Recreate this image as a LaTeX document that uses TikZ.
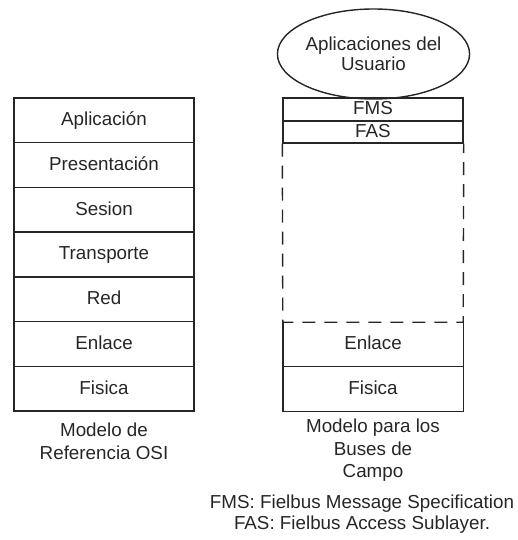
\documentclass[tikz,border=0pt]{standalone}
\usepackage{fontspec}
\setmainfont{Liberation Sans}
\usetikzlibrary{shapes.geometric}
\newcommand\layerfont{\fontsize{18.8}{22.5}\selectfont}
\newcommand\notefont{\fontsize{18.8}{21}\selectfont}
\newcommand\appfont{\fontsize{18.8}{20}\selectfont}
\tikzset{
  ink/.style={black!85},
  frame/.style={ink, line width=1.4pt},
  gapline/.style={frame, dash pattern=on 13pt off 9pt},
  layer/.style={frame, draw, minimum width=180pt, inner sep=0pt,
    text height=11pt, text depth=0pt, font=\layerfont, text=black!85},
  slot/.style={minimum width=180pt, inner sep=0pt,
    text height=11pt, text depth=0pt, font=\layerfont, text=black!85},
  caption/.style={align=center, inner sep=0pt, text=black!85}
}
\begin{document}
\begin{tikzpicture}[x=1pt, y=-1pt]
  \useasboundingbox (0,0) rectangle (517,540);

  % OSI reference model, seven layers
  \node[layer, minimum height=44.7pt] (l1) at (104,120.35) {Aplicación};
  \node[layer, minimum height=44.7pt] (l2) at (104,165.05) {Presentación};
  \node[layer, minimum height=44.7pt] (l3) at (104,209.75) {Sesion};
  \node[layer, minimum height=44.7pt] (l4) at (104,254.45) {Transporte};
  \node[layer, minimum height=44.7pt] (l5) at (104,299.15) {Red};
  \node[layer, minimum height=44.7pt] (l6) at (104,343.85) {Enlace};
  \node[layer, minimum height=44.7pt] (l7) at (104,388.55) {Fisica};
  \node[caption, anchor=north, font=\layerfont] (osi) at (104,423) {Modelo de\\Referencia OSI};

  % fieldbus model
  \node[ellipse, frame, draw, minimum width=181pt, minimum height=90pt, inner sep=0pt,
        align=center, font=\appfont, text=black!85] (apps) at (373.5,54) {Aplicaciones del\\Usuario};
  \node[layer, minimum height=23pt] (fms) at (373,109.5) {FMS};
  \node[layer, minimum height=22pt] (fas) at (373,132) {FAS};
  \node[slot, minimum height=179pt] (gap) at (373,232.5) {};
  \node[slot, minimum height=44pt] (enl) at (373,344) {Enlace};
  \node[slot, minimum height=45pt] (fis) at (373,388.5) {Fisica};

  % unused layers: dashed outline below FAS
  \draw[gapline] (fas.south west) -- (gap.south west) -- (gap.south east) -- (fas.south east);
  % link and physical layers
  \draw[frame] (enl.north west) -- (fis.south west) -- (fis.south east) -- (enl.north east);
  \draw[frame] (enl.south west) -- (enl.south east);

  \node[caption, anchor=north, font=\layerfont] (bus) at (373,419) {Modelo para los\\Buses de\\Campo};
  \node[caption, anchor=north, font=\notefont] (notes) at (362,495)
    {FMS: Fielbus Message Specification\\FAS: Fielbus Access Sublayer.};
\end{tikzpicture}
\end{document}
